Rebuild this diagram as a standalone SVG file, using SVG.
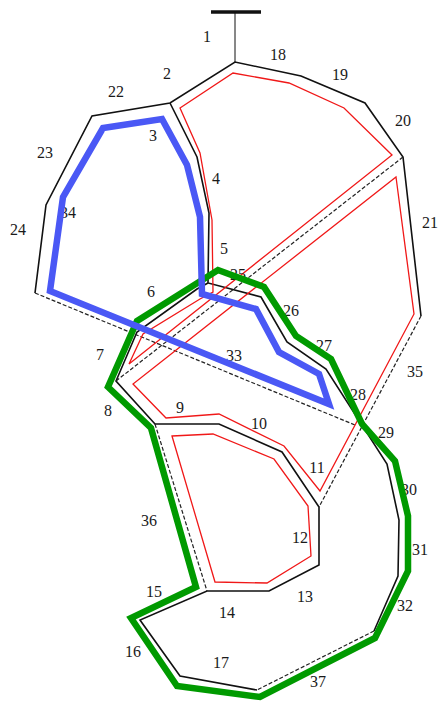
<svg xmlns="http://www.w3.org/2000/svg" width="438" height="702" viewBox="0 0 438 702">
<style>
.k{fill:none;stroke:#111;stroke-width:1.6;stroke-linejoin:miter}
.d{fill:none;stroke:#222;stroke-width:1.2;stroke-dasharray:4 2}
.r{fill:none;stroke:#f01818;stroke-width:1.3}
.g{fill:none;stroke:#009a00;stroke-width:6.5}
.b{fill:none;stroke:#4a58f5;stroke-width:6.5}
text{font-family:"Liberation Serif","Times New Roman",serif;font-size:16px;fill:#1a1a1a;text-anchor:middle;dominant-baseline:central}
</style>
<rect width="438" height="702" fill="#fff"/>
<g id="connectors">
<path d="M211 12H261" fill="none" stroke="#111" stroke-width="3.5"/>
<path class="k" d="M235 12V62" style="stroke-width:1"/>
<path class="k" d="M35 293L46 205L92 116L170 103L235 62L301 76L365 103L403 157L421 316"/>
<path class="k" d="M170 103L197 157L209 213L208 283L261 297L287 342L326 369L387 464L399 520L398 576L374 631"/>
<path class="k" d="M257 690L180 676L140 620L207 591H269L319 565V507L282 452L219 424H155L116 381L137 332L197 289L208 283"/>
<path class="d" d="M35 293L355 425"/>
<path class="d" d="M116 381L403 157"/>
<path class="d" d="M421 316L319 507"/>
<path class="d" d="M155 424L207 591"/>
<path class="d" d="M374 631L257 690"/>
</g>
<g id="red-regions">
<path class="r" d="M180 108L233 73L289 83L344 108L392 155L129 364L143 334L200 299L213 292L212 220L200 153Z"/>
<path class="r" d="M396 177L414 314L320 491L284 446L219 414L166 418L133 384Z"/>
<path class="r" d="M172 436L213 434L274 459L308 506L311 556L267 583L215 582Z"/>
</g>
<g id="labels">
<text x="207" y="36">1</text><text x="167" y="73">2</text><text x="278" y="54">18</text><text x="340" y="74">19</text>
<text x="116" y="91">22</text><text x="153" y="135">3</text><text x="403" y="120">20</text><text x="45" y="152">23</text>
<text x="216" y="178">4</text><text x="68" y="212">34</text><text x="18" y="229">24</text><text x="430" y="222">21</text>
<text x="224" y="248">5</text><text x="238" y="274">25</text><text x="151" y="291">6</text><text x="291" y="310">26</text>
<text x="324" y="345">27</text><text x="100" y="354">7</text><text x="234" y="355">33</text><text x="415" y="371">35</text>
<text x="108" y="410">8</text><text x="180" y="407">9</text><text x="358" y="394">28</text><text x="259" y="423">10</text>
<text x="386" y="432">29</text><text x="317" y="467">11</text><text x="409" y="489">30</text><text x="149" y="520">36</text>
<text x="300" y="537">12</text><text x="420" y="549">31</text><text x="305" y="596">13</text><text x="405" y="605">32</text>
<text x="154" y="591">15</text><text x="227" y="612">14</text><text x="133" y="651">16</text><text x="221" y="662">17</text>
<text x="318" y="681">37</text>
</g>
<g id="green-path">
<path class="g" d="M108 387L151 428L196 587L131 618L177 686L260 697L375 638L408 571V516L395 461L362 424L331 359L296 336L264 287L218 270L137 321Z"/>
</g>
<g id="blue-path">
<path class="b" d="M50 291L63 197L103 128L162 119L187 165L200 217L202 294L256 309L279 352L319 374L329 404Z"/>
</g>
</svg>
